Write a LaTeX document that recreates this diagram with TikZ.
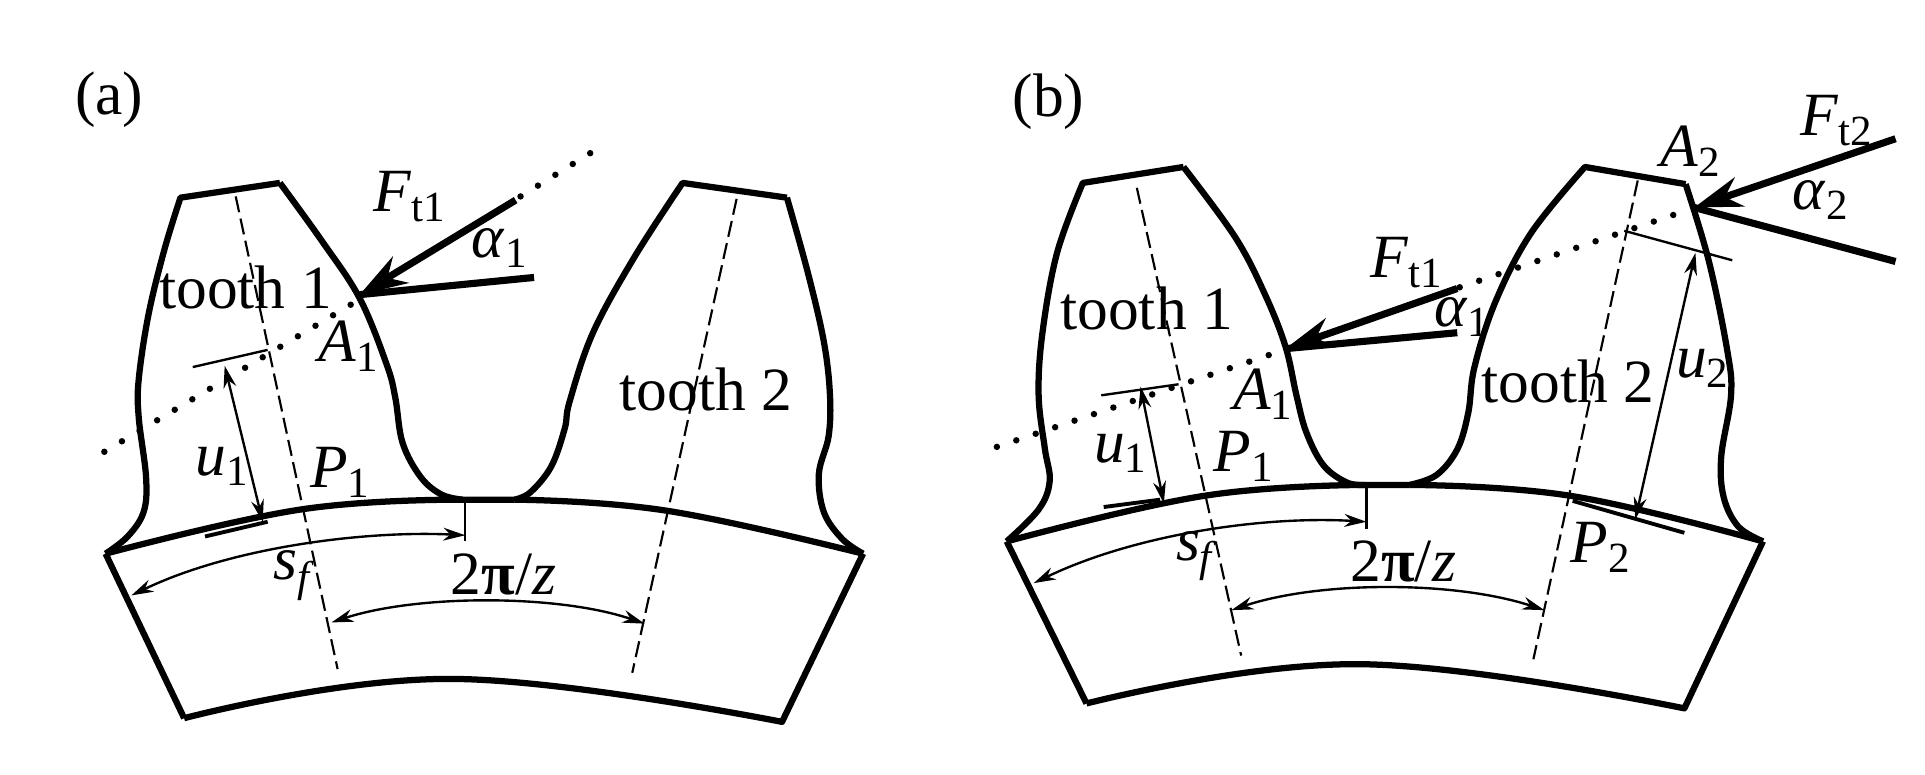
\documentclass[tikz,border=0pt]{standalone}
\usepackage{fontspec}
\setmainfont{Liberation Serif}
\usetikzlibrary{arrows.meta}
\newcommand{\sym}[2]{\textit{#1}\textsubscript{#2}}
\begin{document}
\begin{tikzpicture}[x=0.02cm,y=-0.02cm,
gear/.style={line width=2.9pt,line join=round},
center/.style={line width=1pt,dash pattern=on 7.5pt off 3pt},
force/.style={line width=3.3pt,-{Stealth[length=0.78cm,width=0.5cm]}},
leg/.style={line width=3.3pt},
dim/.style={line width=1.1pt,{Stealth[length=0.36cm,width=0.21cm]}-{Stealth[length=0.36cm,width=0.21cm]}},
tick/.style={line width=1.1pt},
dots/.style={line width=3pt,line cap=round,dash pattern=on 0pt off 9.5pt},
lab/.style={font=\fontsize{28.5}{31}\selectfont,inner sep=0pt}]
\useasboundingbox (0,0) rectangle (1568,631);

\coordinate (BLa) at (86,451);
\coordinate (BRa) at (703,451);
\coordinate (CLa) at (150,585);
\coordinate (CRa) at (637,588);
\coordinate (Aa) at (293,240);
\coordinate (Fa) at (420,163);
\coordinate (Ga) at (435,226);
\draw[gear] plot[smooth,tension=.6] coordinates {(BLa) (104,437) (117,417) (119,389) (113,340) (113,309) (121,256) (134,203) (147,161)}
 -- (228,149) plot[smooth,tension=.6] coordinates {(228,149) (262,196) (293,243) (315,297) (322,324) (328,361) (343,389) (360,403) (377,407)}
 -- (419,407) plot[smooth,tension=.6] coordinates {(419,407) (432,401) (449,380) (460,349) (464,327) (483,271) (517,209) (556,149)}
 -- (641,161) plot[smooth,tension=.6] coordinates {(641,161) (658,222) (671,278) (676,321) (675,355) (667,386) (671,417) (686,439) (BRa)};
\draw[gear] plot[smooth,tension=.7] coordinates {(BLa) (245,415) (377,407)};
\draw[gear] plot[smooth,tension=.7] coordinates {(419,407) (543,416) (BRa)};
\draw[gear] (BLa)--(CLa) plot[smooth,tension=.7] coordinates {(CLa) (368,553) (CRa)} --(BRa);
\draw[center] (192,160)--(275,545);
\draw[center] (600,162)--(515,548);
\draw[dots] (85,368)--(286,248);
\draw[dots] (424,160)--(482,124);
\draw[force] (Fa)--(Aa);
\draw[leg] (Ga)--(Aa);
\draw[tick] (157,299)--(218,285);
\draw[dim] (183,298)--(214,425);
\draw[tick,line width=1.8pt] (167,437)--(218,425);
\draw[tick] (379,407)--(379,441);
\draw[dim] (107,485) .. controls (190,445) and (300,432) .. (379,436);
\draw[dim] (270,507) .. controls (340,484) and (455,484) .. (525,508);

\node[lab] (capa) at (89,81) {(a)};
\node[lab] (Fta) at (334,160) {\sym{F}{t1}};
\node[lab] (ala) at (407,202) {\sym{α}{1}};
\node[lab] (toothAa) at (200,234) {tooth 1};
\node[lab] (toothBa) at (575,317) {tooth 2};
\node[lab] (Ala) at (284,282) {\sym{A}{1}};
\node[lab] (ua) at (181,380) {\sym{u}{1}};
\node[lab] (Pa) at (277,385) {\sym{P}{1}};
\node[lab] (sa) at (240,469) {\sym{s}{\textit{f}}};
\node[lab] (za) at (410,468) {2\textbf{π}/\textit{z}};

\coordinate (BLb) at (820,441);
\coordinate (BRb) at (1436,441);
\coordinate (CLb) at (885,573);
\coordinate (CRb) at (1372,577);
\coordinate (Ab) at (1047,284);
\coordinate (Fb) at (1187,235);
\coordinate (Gb) at (1187,271);
\coordinate (Ac) at (1380,169);
\coordinate (Fc) at (1544,113);
\coordinate (Gc) at (1544,213);
\draw[gear] plot[smooth,tension=.6] coordinates {(BLb) (846,415) (855,392) (851,365) (846,322) (849,272) (861,206) (882,149)}
 -- (964,136) plot[smooth,tension=.6] coordinates {(964,136) (1006,193) (1030,239) (1047,282) (1056,322) (1064,352) (1078,379) (1097,393) (1112,395)}
 -- (1148,395) plot[smooth,tension=.6] coordinates {(1148,395) (1170,387) (1187,366) (1196,336) (1201,299) (1218,246) (1247,190) (1291,136)}
 -- (1373,150) plot[smooth,tension=.6] coordinates {(1373,150) (1392,213) (1407,286) (1410,322) (1402,372) (1404,405) (1416,429) (BRb)};
\draw[gear] plot[smooth,tension=.7] coordinates {(BLb) (980,404) (1112,395)};
\draw[gear] plot[smooth,tension=.7] coordinates {(1148,395) (1280,404) (BRb)};
\draw[gear] (BLb)--(CLb) plot[smooth,tension=.7] coordinates {(CLb) (1107,541) (CRb)} --(BRb);
\draw[center] (926,153)--(1011,534);
\draw[center] (1334,147)--(1249,537);
\draw[dots] (812,364)--(1046,285);
\draw[dots] (1189,234)--(1378,170);
\draw[force] (Fb)--(Ab);
\draw[leg] (Gb)--(Ab);
\draw[force] (Fc)--(Ac);
\draw[leg] (Gc)--(Ac);
\draw[tick] (897,322)--(960,313);
\draw[dim] (929,315)--(948,410);
\draw[tick,line width=1.8pt] (899,413)--(945,407);
\draw[tick] (1323,188)--(1411,212);
\draw[dim] (1381,206)--(1332,423);
\draw[tick,line width=1.8pt] (1281,408)--(1372,434);
\draw[tick] (1113,395)--(1113,431);
\draw[dim] (842,475) .. controls (925,435) and (1030,420) .. (1113,425);
\draw[dim] (1003,497) .. controls (1075,473) and (1185,473) .. (1258,497);

\node[lab] (capb) at (854,83) {(b)};
\node[lab] (Ftc) at (1496,98) {\sym{F}{t2}};
\node[lab] (Alc) at (1377,123) {\sym{A}{2}};
\node[lab] (alc) at (1483,163) {\sym{α}{2}};
\node[lab] (Ftb) at (1146,214) {\sym{F}{t1}};
\node[lab] (alb) at (1191,258) {\sym{α}{1}};
\node[lab] (toothAb) at (934,251) {tooth 1};
\node[lab] (toothBb) at (1277,311) {tooth 2};
\node[lab] (uc) at (1387,300) {\sym{u}{2}};
\node[lab] (Alb) at (1029,321) {\sym{A}{1}};
\node[lab] (ub) at (913,369) {\sym{u}{1}};
\node[lab] (Pb) at (1013,372) {\sym{P}{1}};
\node[lab] (Pc) at (1304,446) {\sym{P}{2}};
\node[lab] (sb) at (975,453) {\sym{s}{\textit{f}}};
\node[lab] (zb) at (1143,457) {2\textbf{π}/\textit{z}};
\end{tikzpicture}
\end{document}
